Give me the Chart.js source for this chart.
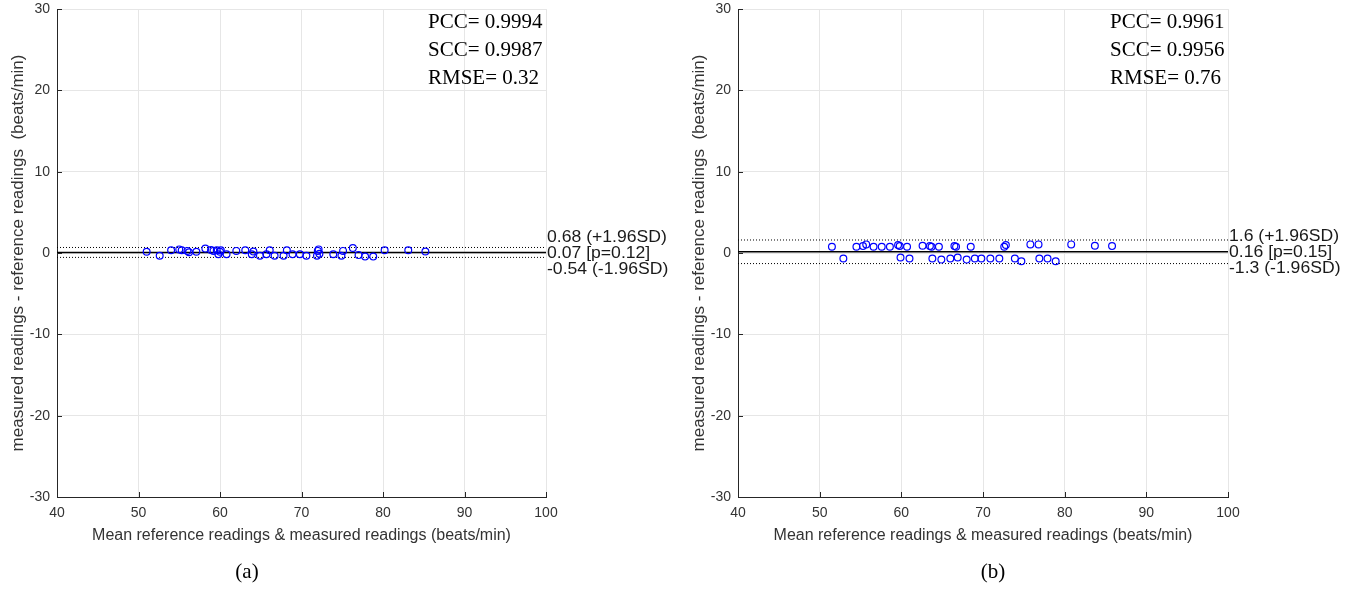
<!DOCTYPE html>
<html>
<head>
<meta charset="utf-8">
<script src="https://cdn.jsdelivr.net/npm/chart.js@4.4.1/dist/chart.umd.min.js"></script>
<style>
  body { margin: 0; background: #fff; width: 1357px; height: 590px; position: relative; overflow: hidden; }
  .panel { position: absolute; top: 0; height: 590px; }
  .caption { position: absolute; top: 559px; width: 60px; text-align: center;
             font-family: "Liberation Serif", serif; font-size: 21px; color: #000; }
</style>
</head>
<body>
<div class="panel" style="left:0;width:680px"><canvas id="chartA"></canvas></div>
<div class="panel" style="left:681px;width:676px"><canvas id="chartB"></canvas></div>
<div class="caption" style="left:217px">(a)</div>
<div class="caption" style="left:963px">(b)</div>
<script>
"use strict";

// axis ticks
const xTicks = [40, 50, 60, 70, 80, 90, 100];
const yTicks = [-30, -20, -10, 0, 10, 20, 30];

// panel (a): mean of readings vs difference
const meanA = [51.0, 52.6, 54.0, 55.0, 55.3, 56.0, 56.2, 57.1, 58.2, 58.9, 59.2, 59.6, 59.8, 60.0, 60.1,
    60.8, 62.0, 63.1, 63.9, 64.1, 64.9, 65.7, 66.1, 66.7, 67.8, 68.2, 68.9, 69.8, 70.6, 71.9, 72.0,
    72.1, 72.2, 73.9, 74.9, 75.1, 76.3, 77.0, 77.8, 78.8, 80.2, 83.1, 85.2];
const diffA = [0.16, -0.33, 0.33, 0.44, 0.33, 0.26, 0.09, 0.16, 0.54, 0.37, 0.26, 0.33, -0.16, 0.16, 0.33,
    -0.16, 0.26, 0.33, -0.16, 0.19, -0.33, -0.16, 0.33, -0.33, -0.33, 0.33, -0.16, -0.16, -0.33, -0.33, 0.26,
    0.44, -0.09, -0.16, -0.33, 0.26, 0.61, -0.26, -0.44, -0.44, 0.33, 0.33, 0.19];
const limitsA = [0.68, 0.07, -0.54];
const limitLabelsA = ["0.68 (+1.96SD)", "0.07 [p=0.12]", "-0.54 (-1.96SD)"];
const statsA = ["PCC= 0.9994", "SCC= 0.9987", "RMSE= 0.32"];

// panel (b)
const meanB = [51.5, 52.9, 54.5, 55.3, 55.7, 56.6, 57.6, 58.6, 59.6, 59.8, 59.9, 60.7, 61.0, 62.6, 63.5,
    63.7, 63.8, 64.6, 64.9, 66.0, 66.5, 66.7, 66.9, 68.0, 68.5, 69.0, 69.8, 70.9, 72.0, 72.6, 72.8,
    73.9, 74.7, 75.8, 76.8, 76.9, 77.9, 78.9, 80.8, 83.7, 85.8];
const diffB = [0.77, -0.68, 0.77, 0.85, 1.06, 0.77, 0.77, 0.77, 0.98, 0.85, -0.56, 0.77, -0.68, 0.89, 0.85,
    0.77, -0.68, 0.77, -0.81, -0.68, 0.85, 0.77, -0.56, -0.81, 0.77, -0.68, -0.68, -0.68, -0.68, 0.77, 0.98,
    -0.68, -1.01, 1.06, 1.06, -0.68, -0.68, -1.01, 1.06, 0.89, 0.85];
const limitsB = [1.6, 0.16, -1.3];
const limitLabelsB = ["1.6 (+1.96SD)", "0.16 [p=0.15]", "-1.3 (-1.96SD)"];
const statsB = ["PCC= 0.9961", "SCC= 0.9956", "RMSE= 0.76"];

const axisColor = '#262626';

// stats box + limit labels on the right of the plot
const textPlugin = {
    id: 'baText',
    afterDraw(chart, args, opts) {
        const { ctx, chartArea, scales } = chart;
        ctx.save();
        // inward ticks like matlab
        ctx.strokeStyle = axisColor;
        ctx.lineWidth = 1;
        ctx.beginPath();
        xTicks.forEach(v => {
            const px = Math.round(scales.x.getPixelForValue(v)) + 0.5;
            ctx.moveTo(px, chartArea.bottom);
            ctx.lineTo(px, chartArea.bottom - 5);
        });
        yTicks.forEach(v => {
            const py = Math.round(scales.y.getPixelForValue(v)) + 0.5;
            ctx.moveTo(chartArea.left, py);
            ctx.lineTo(chartArea.left + 5, py);
        });
        ctx.stroke();

        ctx.fillStyle = '#000';
        ctx.textBaseline = 'middle';
        ctx.textAlign = 'left';
        ctx.font = '21px "Liberation Serif"';
        opts.stats.forEach((s, i) => ctx.fillText(s, chartArea.right - 118, 22 + i * 28));

        // labels look a bit wide in the original, stretch them a little
        ctx.fillStyle = '#1a1a1a';
        ctx.font = '16px "Liberation Sans"';
        const mid = scales.y.getPixelForValue(opts.limits[1]) + 1;
        const lx = chartArea.right + 1;
        ctx.translate(lx, 0);
        ctx.scale(1.1, 1);
        ctx.fillText(opts.labels[0], 0, mid - 16);
        ctx.fillText(opts.labels[1], 0, mid);
        ctx.fillText(opts.labels[2], 0, mid + 16);
        ctx.restore();
    }
};

function limitLine(y, dashed) {
    return {
        type: 'line',
        data: [{ x: xTicks[0], y: y }, { x: xTicks[xTicks.length - 1], y: y }],
        borderColor: '#000',
        borderWidth: dashed ? 1 : 1.4,
        borderDash: dashed ? [1, 2] : [],
        pointRadius: 0,
        fill: false,
        order: 2
    };
}

function makeChart(id, means, diffs, limits, labels, stats, padRight) {
    const points = means.map((m, i) => ({ x: m, y: diffs[i] }));
    return new Chart(document.getElementById(id), {
        type: 'scatter',
        data: {
            datasets: [
                {
                    data: points,
                    pointStyle: 'circle',
                    pointRadius: 3.4,
                    pointBorderWidth: 1.2,
                    borderColor: '#0000ff',
                    backgroundColor: 'rgba(0,0,0,0)',
                    order: 0
                },
                limitLine(limits[0], true),
                limitLine(limits[1], false),
                limitLine(limits[2], true)
            ]
        },
        options: {
            responsive: true,
            maintainAspectRatio: false,
            animation: false,
            layout: { padding: { left: 0, right: padRight, top: 9, bottom: 0 } },
            plugins: {
                legend: { display: false },
                tooltip: { enabled: false },
                baText: { stats: stats, limits: limits, labels: labels }
            },
            scales: {
                x: {
                    type: 'linear',
                    min: xTicks[0],
                    max: xTicks[xTicks.length - 1],
                    afterBuildTicks: s => { s.ticks = xTicks.map(v => ({ value: v })); },
                    afterFit: s => { s.height = 93; },
                    grid: { color: '#e6e6e6', drawTicks: false },
                    border: { color: axisColor, width: 1 },
                    ticks: { color: '#333', padding: 8, font: { family: 'Liberation Sans', size: 14 } },
                    title: {
                        display: true,
                        text: 'Mean reference readings & measured readings (beats/min)',
                        color: '#333',
                        font: { family: 'Liberation Sans', size: 16 },
                        padding: { top: 0, bottom: 45 }
                    }
                },
                y: {
                    type: 'linear',
                    min: yTicks[0],
                    max: yTicks[yTicks.length - 1],
                    afterBuildTicks: s => { s.ticks = yTicks.map(v => ({ value: v })); },
                    afterFit: s => { s.width = 57; s.paddingTop = 0; s.paddingBottom = 0; },
                    grid: { color: '#e6e6e6', drawTicks: false },
                    border: { color: axisColor, width: 1 },
                    ticks: { color: '#333', padding: 7, font: { family: 'Liberation Sans', size: 14 } },
                    title: {
                        display: true,
                        text: 'measured readings - reference readings  (beats/min)',
                        color: '#333',
                        font: { family: 'Liberation Sans', size: 17 },
                        padding: { top: 8, bottom: 0 }
                    }
                }
            }
        },
        plugins: [textPlugin]
    });
}

makeChart('chartA', meanA, diffA, limitsA, limitLabelsA, statsA, 134);
makeChart('chartB', meanB, diffB, limitsB, limitLabelsB, statsB, 129);
</script>
</body>
</html>
